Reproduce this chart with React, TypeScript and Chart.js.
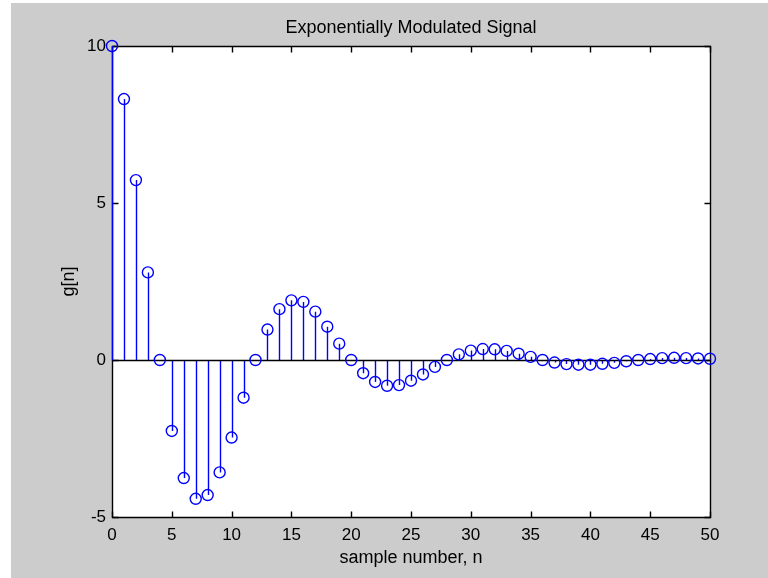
import React, { useEffect, useRef } from "react";
import { Chart, registerables } from "chart.js";

Chart.register(...registerables);

const sampleIndex: number[] = [
  0, 1, 2, 3, 4, 5, 6, 7, 8, 9, 10, 11, 12, 13, 14, 15, 16, 17, 18, 19, 20,
  21, 22, 23, 24, 25, 26, 27, 28, 29, 30, 31, 32, 33, 34, 35, 36, 37, 38, 39,
  40, 41, 42, 43, 44, 45, 46, 47, 48, 49, 50,
];

const signalValues: number[] = [
  10.0, 8.31, 5.73, 2.79, 0.0, -2.26, -3.76, -4.42, -4.3, -3.58, -2.47,
  -1.2, 0.0, 0.97, 1.62, 1.9, 1.85, 1.54, 1.06, 0.52, 0.0, -0.42, -0.7,
  -0.82, -0.8, -0.66, -0.46, -0.22, 0.0, 0.18, 0.3, 0.35, 0.34, 0.29, 0.2,
  0.1, 0.0, -0.08, -0.13, -0.15, -0.15, -0.12, -0.09, -0.04, 0.0, 0.03,
  0.06, 0.07, 0.06, 0.05, 0.04,
];

const xTickValues: number[] = [0, 5, 10, 15, 20, 25, 30, 35, 40, 45, 50];
const yTickValues: number[] = [-5, 0, 5, 10];

const chartTitle = "Exponentially Modulated Signal";
const xAxisLabel = "sample number, n";
const yAxisLabel = "g[n]";

const FONT_FAMILY = "'Liberation Sans', Arial, Helvetica, sans-serif";
const TICK_FONT_SIZE = 17;
const LABEL_FONT_SIZE = 18;
const FIG_BG = "#cccccc";
const STEM_COLOR = "#0000ff";
const LINE_W = 1.4;

const matlabPlugin = {
  id: "matlabStem",
  beforeDraw(chart: any) {
    const { ctx, width, height, chartArea } = chart;
    ctx.save();
    ctx.fillStyle = "#ffffff";
    ctx.fillRect(0, 0, width, height);
    ctx.fillStyle = FIG_BG;
    ctx.fillRect(11, 3, width - 11, height - 3);
    ctx.fillStyle = "#ffffff";
    const l = Math.round(chartArea.left);
    const t = Math.round(chartArea.top);
    const r = Math.round(chartArea.right);
    const b = Math.round(chartArea.bottom);
    ctx.fillRect(l, t, r - l + 1, b - t + 1);
    ctx.restore();
  },
  beforeDatasetsDraw(chart: any) {
    const { ctx, chartArea, scales } = chart;
    const xs = scales.x;
    const ys = scales.y;
    const l = Math.round(chartArea.left) + 0.5;
    const t = Math.round(chartArea.top) + 0.5;
    const r = Math.round(chartArea.right) + 0.5;
    const b = Math.round(chartArea.bottom) + 0.5;
    const tickLen = 6;
    ctx.save();
    ctx.strokeStyle = "#000000";
    ctx.lineWidth = LINE_W;
    ctx.beginPath();
    ctx.rect(l, t, r - l, b - t);
    ctx.stroke();
    ctx.beginPath();
    xTickValues.forEach((v) => {
      const px = Math.round(xs.getPixelForValue(v)) + 0.5;
      ctx.moveTo(px, b);
      ctx.lineTo(px, b - tickLen);
      ctx.moveTo(px, t);
      ctx.lineTo(px, t + tickLen);
    });
    yTickValues.forEach((v) => {
      const py = Math.round(ys.getPixelForValue(v)) + 0.5;
      ctx.moveTo(l, py);
      ctx.lineTo(l + tickLen, py);
      ctx.moveTo(r, py);
      ctx.lineTo(r - tickLen, py);
    });
    ctx.stroke();

    // stems
    const zeroY = Math.round(ys.getPixelForValue(0)) + 0.5;
    ctx.strokeStyle = STEM_COLOR;
    ctx.beginPath();
    sampleIndex.forEach((n, i) => {
      const px = Math.round(xs.getPixelForValue(n)) + 0.5;
      const py = ys.getPixelForValue(signalValues[i]);
      ctx.moveTo(px, zeroY);
      ctx.lineTo(px, py);
    });
    ctx.stroke();

    // baseline
    ctx.strokeStyle = "#000000";
    ctx.beginPath();
    ctx.moveTo(Math.round(xs.getPixelForValue(sampleIndex[0])) + 0.5, zeroY);
    ctx.lineTo(
      Math.round(xs.getPixelForValue(sampleIndex[sampleIndex.length - 1])) + 0.5,
      zeroY
    );
    ctx.stroke();
    ctx.restore();
  },
};

export default function App() {
  const canvasRef = useRef<HTMLCanvasElement | null>(null);

  useEffect(() => {
    if (!canvasRef.current) return;
    const tickFont = { family: FONT_FAMILY, size: TICK_FONT_SIZE, lineHeight: 1.2 };
    const labelFont = { family: FONT_FAMILY, size: LABEL_FONT_SIZE, lineHeight: 1.2 };
    const chart = new Chart(canvasRef.current, {
      type: "scatter",
      data: {
        datasets: [
          {
            data: sampleIndex.map((n, i) => ({ x: n, y: signalValues[i] })),
            showLine: false,
            pointStyle: "circle",
            pointRadius: 5.5,
            pointBorderWidth: LINE_W,
            pointBorderColor: STEM_COLOR,
            pointBackgroundColor: "rgba(0,0,0,0)",
            clip: false as any,
          },
        ],
      },
      options: {
        responsive: false,
        animation: false,
        devicePixelRatio: 1,
        events: [],
        layout: { padding: { left: 0, right: 58, top: 0, bottom: 0 } },
        plugins: {
          legend: { display: false },
          tooltip: { enabled: false },
          title: {
            display: true,
            text: chartTitle,
            fullSize: false,
            color: "#000000",
            font: { ...labelFont, weight: "normal" },
            padding: { top: 17.5, bottom: 6.9 },
          },
        },
        scales: {
          x: {
            type: "linear",
            min: 0,
            max: 50,
            grid: { display: false, drawTicks: false },
            border: { display: false },
            ticks: { color: "#000000", font: tickFont, padding: 8, maxRotation: 0 },
            afterBuildTicks: (scale: any) => {
              scale.ticks = xTickValues.map((v) => ({ value: v }));
            },
            afterFit: (scale: any) => {
              scale.height = 61;
            },
            title: {
              display: true,
              text: xAxisLabel,
              color: "#000000",
              font: labelFont,
              padding: { top: 0, bottom: 9 },
            },
          },
          y: {
            type: "linear",
            min: -5,
            max: 10,
            grid: { display: false, drawTicks: false },
            border: { display: false },
            ticks: { color: "#000000", font: tickFont, padding: 6 },
            afterBuildTicks: (scale: any) => {
              scale.ticks = yTickValues.map((v) => ({ value: v }));
            },
            afterFit: (scale: any) => {
              scale.width = 112;
            },
            title: {
              display: true,
              text: yAxisLabel,
              color: "#000000",
              font: labelFont,
              padding: { top: 58, bottom: 0 },
            },
          },
        },
      },
      plugins: [matlabPlugin],
    });
    return () => chart.destroy();
  }, []);

  return (
    <div style={{ position: "absolute", left: 0, top: 0, width: 768, height: 578 }}>
      <canvas ref={canvasRef} width={768} height={578} style={{ display: "block" }} />
    </div>
  );
}
